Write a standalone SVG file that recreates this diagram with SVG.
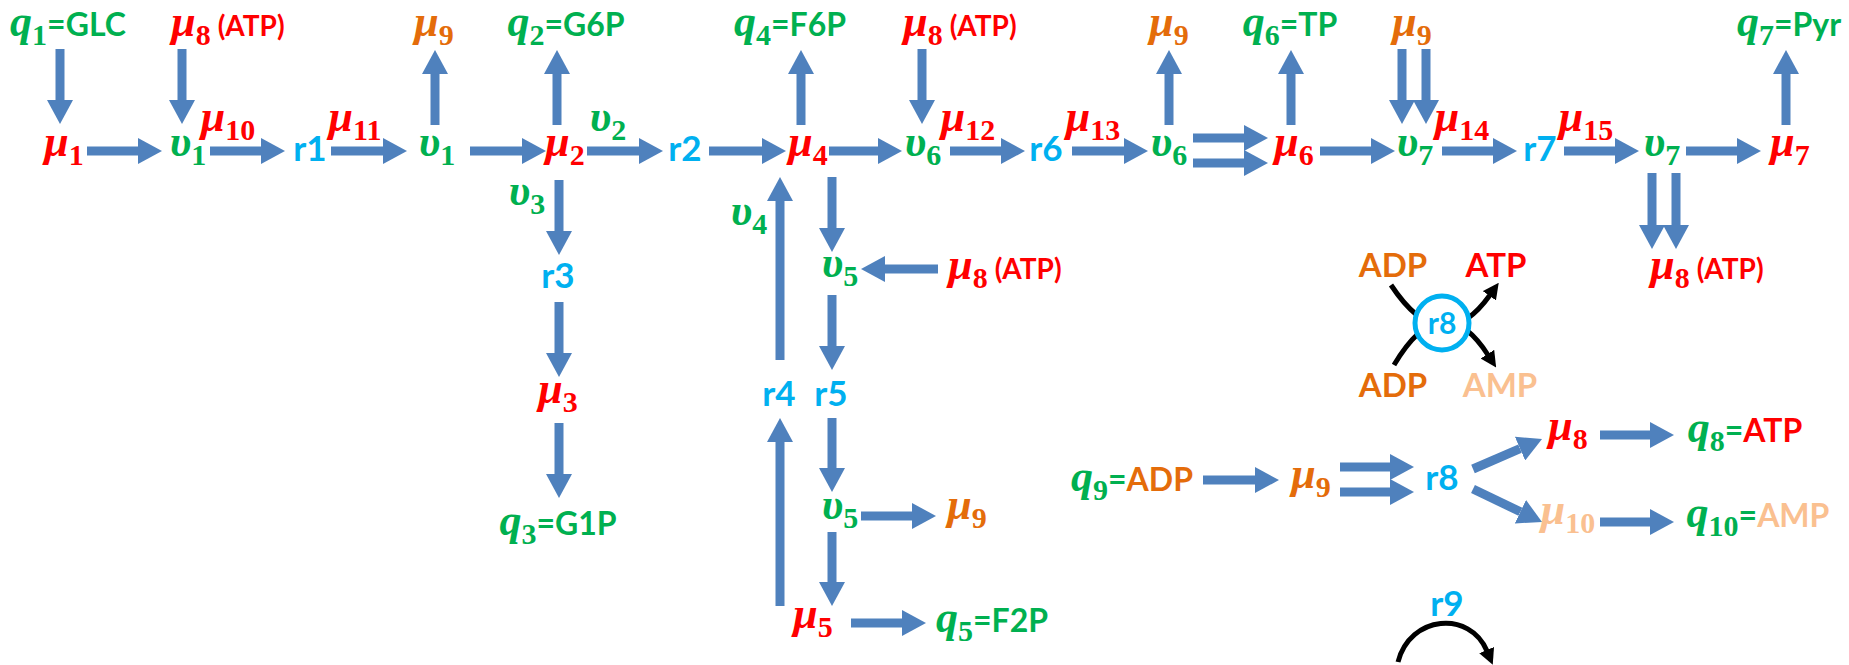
<svg xmlns="http://www.w3.org/2000/svg" width="1849" height="665" viewBox="0 0 1849 665">
<defs>
<style>
text{font-family:Lato,"Liberation Sans",sans-serif;font-weight:bold;}
.mi{font-family:"Liberation Serif",serif;font-style:italic;font-weight:bold;font-size:44px;}
.sb{font-family:"Liberation Serif",serif;font-style:normal;font-weight:bold;font-size:30px;}
.tx{font-family:Lato,"Liberation Sans",sans-serif;font-style:normal;font-weight:bold;font-size:32px;}
.ts{font-family:Lato,"Liberation Sans",sans-serif;font-style:normal;font-weight:bold;font-size:28px;}
.rl{font-size:35px;fill:#00B0F0;}
.lg{font-size:33px;}
.G{fill:#00B050}.R{fill:#FF0000}.O{fill:#E46C0A}.L{fill:#FAC090}.C{fill:#00B0F0}
.a{stroke:#4F81BD;stroke-width:9;fill:none;marker-end:url(#ah);}
.k{stroke:#000;stroke-width:5;fill:none;marker-end:url(#kh);}
</style>
<marker id="ah" markerUnits="userSpaceOnUse" markerWidth="24" markerHeight="26" refX="0" refY="13" orient="auto"><path d="M0,0 L24,13 L0,26 z" fill="#4F81BD"/></marker>
<marker id="kh" markerUnits="userSpaceOnUse" markerWidth="16" markerHeight="16" refX="1" refY="8" orient="auto"><path d="M0,0 L16,8 L0,16 z" fill="#000"/></marker>
</defs>
<rect width="1849" height="665" fill="#fff"/>

<g id="connectors">
<line class="a" x1="60" y1="49" x2="60" y2="100"/>
<line class="a" x1="182" y1="49" x2="182" y2="100"/>
<line class="a" x1="922" y1="49" x2="922" y2="100"/>
<line class="a" x1="1402" y1="49" x2="1402" y2="100"/>
<line class="a" x1="1426" y1="49" x2="1426" y2="100"/>
<line class="a" x1="435" y1="125" x2="435" y2="74"/>
<line class="a" x1="557" y1="125" x2="557" y2="74"/>
<line class="a" x1="801" y1="125" x2="801" y2="74"/>
<line class="a" x1="1169" y1="125" x2="1169" y2="74"/>
<line class="a" x1="1291" y1="125" x2="1291" y2="74"/>
<line class="a" x1="1786" y1="125" x2="1786" y2="74"/>
<line class="a" x1="87" y1="151" x2="138" y2="151"/>
<line class="a" x1="210" y1="151" x2="261" y2="151"/>
<line class="a" x1="331" y1="151" x2="383" y2="151"/>
<line class="a" x1="470" y1="151" x2="522" y2="151"/>
<line class="a" x1="587" y1="151" x2="639" y2="151"/>
<line class="a" x1="709" y1="151" x2="762" y2="151"/>
<line class="a" x1="829" y1="151" x2="878" y2="151"/>
<line class="a" x1="950" y1="151" x2="1001" y2="151"/>
<line class="a" x1="1072" y1="151" x2="1124" y2="151"/>
<line class="a" x1="1193" y1="138" x2="1244" y2="138"/>
<line class="a" x1="1193" y1="163" x2="1244" y2="163"/>
<line class="a" x1="1320" y1="151" x2="1371" y2="151"/>
<line class="a" x1="1442" y1="151" x2="1493" y2="151"/>
<line class="a" x1="1564" y1="151" x2="1615" y2="151"/>
<line class="a" x1="1686" y1="151" x2="1737" y2="151"/>
<line class="a" x1="559" y1="180" x2="559" y2="231"/>
<line class="a" x1="559" y1="302" x2="559" y2="353"/>
<line class="a" x1="559" y1="423" x2="559" y2="474"/>
<line class="a" x1="780" y1="360" x2="780" y2="201"/>
<line class="a" x1="780" y1="606" x2="780" y2="442"/>
<line class="a" x1="832" y1="177" x2="832" y2="228"/>
<line class="a" x1="832" y1="295" x2="832" y2="346"/>
<line class="a" x1="832" y1="418" x2="832" y2="468"/>
<line class="a" x1="832" y1="532" x2="832" y2="582"/>
<line class="a" x1="1652" y1="173" x2="1652" y2="225"/>
<line class="a" x1="1676" y1="173" x2="1676" y2="225"/>
<line class="a" x1="938" y1="269" x2="885" y2="269"/>
<line class="a" x1="861" y1="516" x2="912" y2="516"/>
<line class="a" x1="851" y1="623" x2="902" y2="623"/>
<line class="a" x1="1203" y1="480" x2="1255" y2="480"/>
<line class="a" x1="1340" y1="467" x2="1390" y2="467"/>
<line class="a" x1="1340" y1="492" x2="1390" y2="492"/>
<line class="a" x1="1473" y1="469" x2="1520" y2="448.6"/>
<line class="a" x1="1473" y1="489" x2="1520.4" y2="511.7"/>
<line class="a" x1="1600" y1="435" x2="1650" y2="435"/>
<line class="a" x1="1600" y1="522" x2="1650" y2="522"/>
<path class="k" d="M1391,285 Q1442,362 1490,295"/>
<path class="k" d="M1394,365 Q1442,284 1488,355"/>
<path class="k" d="M1398,662 C1410,615 1470,610 1487,651"/>
</g>

<g id="top-labels">
<g id="q1"><text class="G" x="68" y="36" text-anchor="middle"><tspan class="mi">q</tspan><tspan class="sb" dy="9">1</tspan><tspan class="tx" dy="-9">=GLC</tspan></text></g>
<g id="mu8-a"><text class="R" x="228" y="36" text-anchor="middle"><tspan class="mi">μ</tspan><tspan class="sb" dy="9">8</tspan><tspan class="ts" dy="-9"> (ATP)</tspan></text></g>
<g id="mu9-a"><text class="O" x="434" y="36" text-anchor="middle"><tspan class="mi">μ</tspan><tspan class="sb" dy="9">9</tspan></text></g>
<g id="q2"><text class="G" x="566" y="36" text-anchor="middle"><tspan class="mi">q</tspan><tspan class="sb" dy="9">2</tspan><tspan class="tx" dy="-9">=G6P</tspan></text></g>
<g id="q4"><text class="G" x="790" y="36" text-anchor="middle"><tspan class="mi">q</tspan><tspan class="sb" dy="9">4</tspan><tspan class="tx" dy="-9">=F6P</tspan></text></g>
<g id="mu8-b"><text class="R" x="960" y="36" text-anchor="middle"><tspan class="mi">μ</tspan><tspan class="sb" dy="9">8</tspan><tspan class="ts" dy="-9"> (ATP)</tspan></text></g>
<g id="mu9-b"><text class="O" x="1169" y="36" text-anchor="middle"><tspan class="mi">μ</tspan><tspan class="sb" dy="9">9</tspan></text></g>
<g id="q6"><text class="G" x="1290" y="36" text-anchor="middle"><tspan class="mi">q</tspan><tspan class="sb" dy="9">6</tspan><tspan class="tx" dy="-9">=TP</tspan></text></g>
<g id="mu9-c"><text class="O" x="1412" y="36" text-anchor="middle"><tspan class="mi">μ</tspan><tspan class="sb" dy="9">9</tspan></text></g>
<g id="q7"><text class="G" x="1789" y="36" text-anchor="middle"><tspan class="mi">q</tspan><tspan class="sb" dy="9">7</tspan><tspan class="tx" dy="-9">=Pyr</tspan></text></g>
</g>

<g id="main-row">
<g id="mu1"><text class="R" x="64" y="156" text-anchor="middle"><tspan class="mi">μ</tspan><tspan class="sb" dy="9">1</tspan></text></g>
<g id="v1-a"><text class="G" x="188" y="156" text-anchor="middle"><tspan class="mi">υ</tspan><tspan class="sb" dy="9">1</tspan></text></g>
<g id="r1"><text class="rl" x="310" y="161" text-anchor="middle">r1</text></g>
<g id="v1-b"><text class="G" x="437" y="156" text-anchor="middle"><tspan class="mi">υ</tspan><tspan class="sb" dy="9">1</tspan></text></g>
<g id="mu2"><text class="R" x="565" y="156" text-anchor="middle"><tspan class="mi">μ</tspan><tspan class="sb" dy="9">2</tspan></text></g>
<g id="r2"><text class="rl" x="685" y="161" text-anchor="middle">r2</text></g>
<g id="mu4"><text class="R" x="808" y="156" text-anchor="middle"><tspan class="mi">μ</tspan><tspan class="sb" dy="9">4</tspan></text></g>
<g id="v6-a"><text class="G" x="923" y="156" text-anchor="middle"><tspan class="mi">υ</tspan><tspan class="sb" dy="9">6</tspan></text></g>
<g id="r6"><text class="rl" x="1046" y="161" text-anchor="middle">r6</text></g>
<g id="v6-b"><text class="G" x="1169" y="156" text-anchor="middle"><tspan class="mi">υ</tspan><tspan class="sb" dy="9">6</tspan></text></g>
<g id="mu6"><text class="R" x="1294" y="156" text-anchor="middle"><tspan class="mi">μ</tspan><tspan class="sb" dy="9">6</tspan></text></g>
<g id="v7-a"><text class="G" x="1415" y="156" text-anchor="middle"><tspan class="mi">υ</tspan><tspan class="sb" dy="9">7</tspan></text></g>
<g id="r7"><text class="rl" x="1540" y="161" text-anchor="middle">r7</text></g>
<g id="v7-b"><text class="G" x="1662" y="156" text-anchor="middle"><tspan class="mi">υ</tspan><tspan class="sb" dy="9">7</tspan></text></g>
<g id="mu7"><text class="R" x="1790" y="156" text-anchor="middle"><tspan class="mi">μ</tspan><tspan class="sb" dy="9">7</tspan></text></g>
</g>

<g id="arrow-labels">
<g id="mu10-lbl"><text class="R" x="228" y="131" text-anchor="middle"><tspan class="mi">μ</tspan><tspan class="sb" dy="9">10</tspan></text></g>
<g id="mu11-lbl"><text class="R" x="355" y="131" text-anchor="middle"><tspan class="mi">μ</tspan><tspan class="sb" dy="9">11</tspan></text></g>
<g id="v2-lbl"><text class="G" x="608" y="131" text-anchor="middle"><tspan class="mi">υ</tspan><tspan class="sb" dy="9">2</tspan></text></g>
<g id="mu12-lbl"><text class="R" x="968" y="131" text-anchor="middle"><tspan class="mi">μ</tspan><tspan class="sb" dy="9">12</tspan></text></g>
<g id="mu13-lbl"><text class="R" x="1093" y="131" text-anchor="middle"><tspan class="mi">μ</tspan><tspan class="sb" dy="9">13</tspan></text></g>
<g id="mu14-lbl"><text class="R" x="1462" y="131" text-anchor="middle"><tspan class="mi">μ</tspan><tspan class="sb" dy="9">14</tspan></text></g>
<g id="mu15-lbl"><text class="R" x="1586" y="131" text-anchor="middle"><tspan class="mi">μ</tspan><tspan class="sb" dy="9">15</tspan></text></g>
<g id="v3-lbl"><text class="G" x="527" y="205" text-anchor="middle"><tspan class="mi">υ</tspan><tspan class="sb" dy="9">3</tspan></text></g>
<g id="v4-lbl"><text class="G" x="749" y="225" text-anchor="middle"><tspan class="mi">υ</tspan><tspan class="sb" dy="9">4</tspan></text></g>
</g>

<g id="branches">
<g id="r3"><text class="rl" x="558" y="288" text-anchor="middle">r3</text></g>
<g id="mu3"><text class="R" x="558" y="403" text-anchor="middle"><tspan class="mi">μ</tspan><tspan class="sb" dy="9">3</tspan></text></g>
<g id="q3"><text class="G" x="558" y="535" text-anchor="middle"><tspan class="mi">q</tspan><tspan class="sb" dy="9">3</tspan><tspan class="tx" dy="-9">=G1P</tspan></text></g>
<g id="v5-a"><text class="G" x="840" y="277" text-anchor="middle"><tspan class="mi">υ</tspan><tspan class="sb" dy="9">5</tspan></text></g>
<g id="mu8-c"><text class="R" x="1005" y="279" text-anchor="middle"><tspan class="mi">μ</tspan><tspan class="sb" dy="9">8</tspan><tspan class="ts" dy="-9"> (ATP)</tspan></text></g>
<g id="r4"><text class="rl" x="779" y="406" text-anchor="middle">r4</text></g>
<g id="r5"><text class="rl" x="831" y="406" text-anchor="middle">r5</text></g>
<g id="v5-b"><text class="G" x="840" y="519" text-anchor="middle"><tspan class="mi">υ</tspan><tspan class="sb" dy="9">5</tspan></text></g>
<g id="mu9-d"><text class="O" x="967" y="519" text-anchor="middle"><tspan class="mi">μ</tspan><tspan class="sb" dy="9">9</tspan></text></g>
<g id="mu5"><text class="R" x="813" y="628" text-anchor="middle"><tspan class="mi">μ</tspan><tspan class="sb" dy="9">5</tspan></text></g>
<g id="q5"><text class="G" x="992" y="632" text-anchor="middle"><tspan class="mi">q</tspan><tspan class="sb" dy="9">5</tspan><tspan class="tx" dy="-9">=F2P</tspan></text></g>
<g id="mu8-d"><text class="R" x="1707" y="279" text-anchor="middle"><tspan class="mi">μ</tspan><tspan class="sb" dy="9">8</tspan><tspan class="ts" dy="-9"> (ATP)</tspan></text></g>
</g>

<g id="r8-legend">
<text class="O lg" x="1393" y="277" text-anchor="middle">ADP</text>
<text class="R lg" x="1496" y="277" text-anchor="middle">ATP</text>
<text class="O lg" x="1393" y="397" text-anchor="middle">ADP</text>
<text class="L lg" x="1500" y="397" text-anchor="middle">AMP</text>
<circle cx="1442" cy="323" r="27" fill="#fff" stroke="#00B0F0" stroke-width="5"/>
<text class="C" x="1442" y="334" text-anchor="middle" font-size="30">r8</text>
</g>

<g id="r8-flow">
<g id="q9"><text class="G" x="1132" y="491" text-anchor="middle"><tspan class="mi">q</tspan><tspan class="sb" dy="9">9</tspan><tspan class="tx" dy="-9">=</tspan><tspan class="tx O">ADP</tspan></text></g>
<g id="mu9-e"><text class="O" x="1311" y="488" text-anchor="middle"><tspan class="mi">μ</tspan><tspan class="sb" dy="9">9</tspan></text></g>
<g id="r8"><text class="rl" x="1442" y="490" text-anchor="middle">r8</text></g>
<g id="mu8-e"><text class="R" x="1568" y="440" text-anchor="middle"><tspan class="mi">μ</tspan><tspan class="sb" dy="9">8</tspan></text></g>
<g id="q8"><text class="G" x="1745" y="442" text-anchor="middle"><tspan class="mi">q</tspan><tspan class="sb" dy="9">8</tspan><tspan class="tx" dy="-9">=</tspan><tspan class="tx R">ATP</tspan></text></g>
<g id="mu10-e"><text class="L" x="1568" y="524" text-anchor="middle"><tspan class="mi">μ</tspan><tspan class="sb" dy="9">10</tspan></text></g>
<g id="q10"><text class="G" x="1758" y="527" text-anchor="middle"><tspan class="mi">q</tspan><tspan class="sb" dy="9">10</tspan><tspan class="tx" dy="-9">=</tspan><tspan class="tx L">AMP</tspan></text></g>
</g>

<g id="r9"><text class="rl" x="1447" y="616" text-anchor="middle">r9</text></g>
</svg>
